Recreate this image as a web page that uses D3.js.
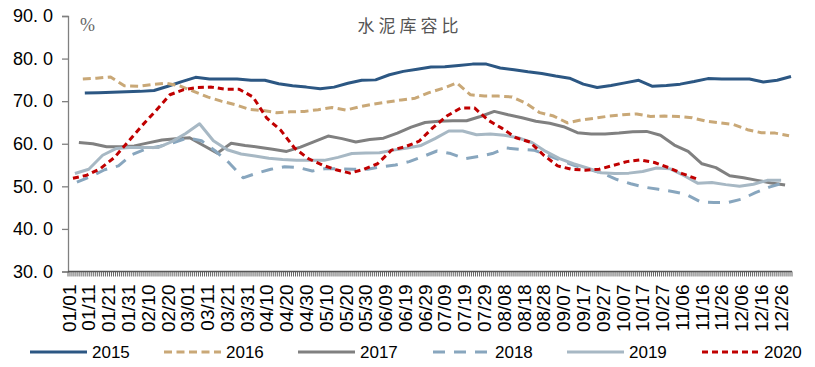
<!DOCTYPE html>
<html><head><meta charset="utf-8">
<script src="https://cdn.jsdelivr.net/npm/d3@7/dist/d3.min.js"></script>
<style>
html,body{margin:0;padding:0;background:#fff;}
svg{display:block;}
</style></head>
<body>
<svg id="chart" width="815" height="367"></svg>
<script>
// ---- data ----
const title = "水泥库容比";
const unitLabel = "%";
const yTicks = [30, 40, 50, 60, 70, 80, 90];
const xTickLabels = ["01/01","01/11","01/21","01/31","02/10","02/20","03/01","03/11","03/21","03/31",
  "04/10","04/20","04/30","05/10","05/20","05/30","06/09","06/19","06/29","07/09","07/19","07/29",
  "08/08","08/18","08/28","09/07","09/17","09/27","10/07","10/17","10/27","11/06","11/16","11/26",
  "12/06","12/16","12/26"];
const seriesNames = ["2015","2016","2017","2018","2019","2020"];
const seriesFirstDate = ["01/09","01/08","01/06","01/05","01/04","01/03"]; // weekly readings
const v2015 = [71.9,72.0,72.1,72.2,72.3,72.5,73.5,74.6,75.6,75.2,75.2,75.2,74.9,74.9,74.1,73.6,73.3,72.9,73.3,74.2,
  74.9,75.0,76.2,77.0,77.5,78.0,78.1,78.4,78.7,78.7,77.8,77.4,76.9,76.5,75.9,75.4,74.0,73.2,73.7,74.3,
  74.9,73.5,73.7,74.0,74.6,75.3,75.2,75.2,75.2,74.5,74.9,75.8];
const v2016 = [75.2,75.4,75.7,73.6,73.5,73.9,74.2,73.6,72.3,71.0,70.0,69.2,68.1,67.8,67.3,67.5,67.6,68.0,68.5,67.9,
  68.7,69.3,69.8,70.3,70.7,72.0,73.0,74.3,71.5,71.2,71.2,71.0,69.5,67.3,66.5,64.9,65.6,66.0,66.5,66.8,
  67.0,66.4,66.5,66.4,66.1,65.3,64.9,64.5,63.3,62.6,62.5,61.9];
const v2017 = [60.3,60.0,59.3,59.3,59.5,60.2,60.9,61.2,61.4,59.6,57.8,60.1,59.6,59.2,58.7,58.2,59.2,60.5,61.8,61.2,
  60.4,61.0,61.3,62.5,63.9,65.0,65.3,65.4,65.4,66.4,67.6,66.8,66.1,65.3,64.8,64.0,62.6,62.3,62.3,62.5,
  62.8,62.9,62.0,59.7,58.2,55.3,54.4,52.5,52.0,51.4,50.8,50.3];
const v2018 = [51.0,52.3,53.9,54.8,57.5,58.8,59.4,60.3,61.4,60.7,58.3,55.5,52.0,53.1,54.0,54.6,54.4,53.6,54.2,54.1,
  54.0,54.0,54.6,55.0,55.8,57.0,58.3,57.7,56.5,57.0,57.7,59.0,58.7,58.5,57.3,56.0,54.8,54.0,53.0,51.6,
  50.6,49.8,49.3,48.8,48.1,46.4,46.2,46.2,47.0,48.5,49.8,50.8];
const v2019 = [53.0,54.0,57.3,58.9,59.1,59.1,59.1,60.5,62.4,64.7,60.7,58.6,57.6,57.1,56.6,56.3,56.1,56.1,56.1,56.8,
  57.7,57.8,57.9,58.5,59.0,59.6,61.2,63.0,63.0,62.1,62.3,62.0,61.4,60.3,58.2,56.5,55.3,54.3,53.2,53.0,
  53.1,53.5,54.3,54.1,52.5,50.7,50.9,50.4,50.0,50.5,51.4,51.4];
const v2020 = [51.9,52.6,54.2,56.8,60.5,64.3,67.8,71.5,72.7,73.2,73.3,72.8,72.8,71.0,66.0,63.2,59.0,56.5,55.0,53.9,
  53.1,54.0,55.3,58.5,59.3,60.6,63.8,66.5,68.4,68.4,65.5,63.6,61.4,60.4,57.3,54.8,54.0,53.8,54.0,54.9,
  55.8,56.2,55.6,54.4,53.0,51.8];
const seriesValues = [v2015, v2016, v2017, v2018, v2019, v2020];

// ---- styles ----
const colors = ["#2c5783","#c9a877","#808080","#88a6be","#a7b8c4","#c00000"];
const dashes = [null, "8,4.5", null, "12,9", null, "6,4"];

const svg = d3.select("#chart");
const margin = {left: 68, right: 23, top: 16, bottom: 95.5};
const W = 815, H = 367;

// category axis: every day of a (leap) year
const categories = d3.timeDay.range(new Date(2020,0,1), new Date(2021,0,1)).map(d3.timeFormat("%m/%d"));
const x = d3.scaleBand().domain(categories).range([margin.left, W - margin.right]).padding(0);
const y = d3.scaleLinear().domain([30, 90]).range([H - margin.bottom, margin.top]);
const xc = c => x(c) + x.bandwidth() / 2;

const axisColor = "#808080";

// Y axis
const yAxis = svg.append("g").attr("transform", `translate(${margin.left},0)`)
  .call(d3.axisLeft(y).tickValues(yTicks).tickSize(6).tickPadding(9)
    .tickFormat(d => d3.format(".1f")(d).replace(".", ". ")));
yAxis.select(".domain").attr("stroke", axisColor).attr("stroke-width", 1.3);
yAxis.selectAll(".tick line").attr("stroke", axisColor).attr("stroke-width", 1.3);
yAxis.selectAll("text").attr("font-family", "Liberation Sans, Arial, sans-serif")
  .attr("font-size", 18).attr("fill", "#000");

// X axis: tick at every day boundary
const xAxisG = svg.append("g");
xAxisG.selectAll("line.dt").data(d3.range(categories.length + 1)).join("line")
  .attr("class", "dt")
  .attr("x1", i => margin.left + i * x.bandwidth()).attr("x2", i => margin.left + i * x.bandwidth())
  .attr("y1", y(30)).attr("y2", y(30) + 5)
  .attr("stroke", "#666").attr("stroke-width", 1);
xAxisG.append("line").attr("x1", margin.left).attr("x2", W - margin.right)
  .attr("y1", y(30)).attr("y2", y(30)).attr("stroke", "#555").attr("stroke-width", 1.3);
xAxisG.selectAll("text.xl").data(xTickLabels).join("text")
  .attr("class", "xl")
  .attr("transform", d => `translate(${xc(d)},${y(30) + 13}) rotate(-90)`)
  .attr("text-anchor", "end").attr("dy", "0.35em")
  .attr("font-family", "Liberation Sans, Arial, sans-serif").attr("font-size", 19).attr("fill", "#000")
  .text(d => d);

// Title and unit
svg.append("text").attr("x", 410).attr("y", 32).attr("text-anchor", "middle")
  .attr("font-family", "Noto Sans CJK SC, sans-serif").attr("font-size", 17)
  .attr("letter-spacing", 4).attr("fill", "#555").text(title);
svg.append("text").attr("x", 80).attr("y", 31)
  .attr("font-family", "Liberation Serif, DejaVu Serif, serif").attr("font-size", 18)
  .attr("fill", "#666").text(unitLabel);

// Lines
const line = d3.line().x(d => xc(d.c)).y(d => y(d.v));
seriesNames.forEach((name, si) => {
  const start = categories.indexOf(seriesFirstDate[si]);
  const pts = seriesValues[si].map((v, i) => ({c: categories[Math.min(start + 7 * i, categories.length - 1)], v}));
  svg.append("path").datum(pts)
    .attr("fill", "none").attr("stroke", colors[si]).attr("stroke-width", 3)
    .attr("stroke-linejoin", "round")
    .attr("stroke-dasharray", dashes[si])
    .attr("d", line);
});

// Legend
const legendX = [30, 164, 298, 433, 567, 702];
const legendY = 352;
const lg = svg.append("g");
seriesNames.forEach((name, si) => {
  lg.append("line").attr("x1", legendX[si]).attr("x2", legendX[si] + 57)
    .attr("y1", legendY).attr("y2", legendY)
    .attr("stroke", colors[si]).attr("stroke-width", 3)
    .attr("stroke-dasharray", dashes[si]);
  lg.append("text").attr("x", legendX[si] + 62).attr("y", legendY).attr("dy", "0.35em")
    .attr("font-family", "Liberation Sans, Arial, sans-serif").attr("font-size", 17).attr("fill", "#000")
    .text(name);
});
</script>
</body></html>
